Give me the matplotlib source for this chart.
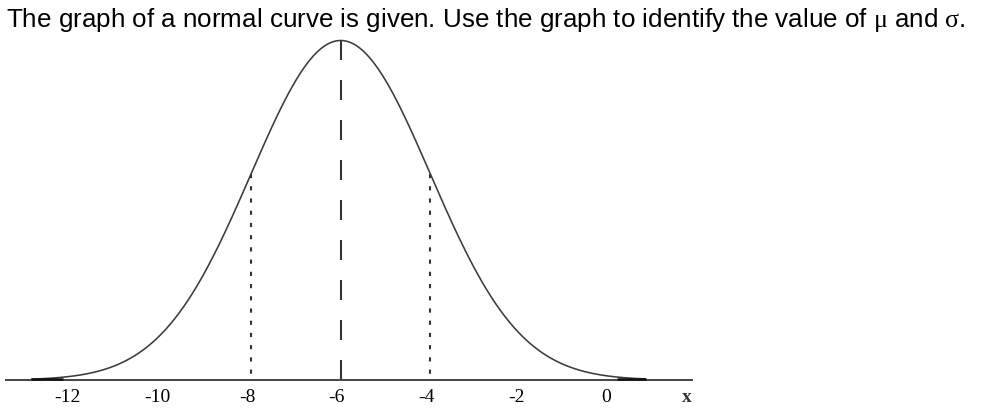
import numpy as np
import matplotlib
matplotlib.use("Agg")
import matplotlib.pyplot as plt
from matplotlib.transforms import ScaledTranslation

# ---- data ----
mu = -6.0
sigma = 2.0
curve_range = [-12.9, 0.8]
tail_limits = [-12.2, 0.16]
tick_values = [-12, -10, -8, -6, -4, -2, 0]
tick_labels = ["-12", "-10", "-8", "-6", "-4", "-2", "0"]
sigma_marks = [-8, -4]
axis_range = [-13.46, 1.83]
title = r"The graph of a normal curve is given. Use the graph to identify the value of $\mathrm{\mu}$ and $\mathrm{\sigma}$."

plt.rcParams['lines.scale_dashes'] = False
plt.rcParams['mathtext.fontset'] = 'custom'
plt.rcParams['mathtext.rm'] = 'Liberation Serif'

W, H = 1008, 410
fig = plt.figure(figsize=(W / 100, H / 100), dpi=100)
ax = fig.add_axes([0, 0, 1, 1])
ax.set_xlim(-13.596, 8.878)
ax.set_ylim(-0.0854, 1.1222)
ax.patch.set_alpha(0)

def f(x):
    return np.exp(-0.5 * ((np.asarray(x) - mu) / sigma) ** 2)

xs = np.linspace(curve_range[0], curve_range[1], 800)
ax.plot(xs, f(xs), color='#3c3c3c', lw=1.15, solid_capstyle='butt', zorder=3)
# flat tails that merge with the axis (drawn heavier, as in the original)
for a, b in [(curve_range[0], tail_limits[0]), (tail_limits[1], curve_range[1])]:
    ax.plot([a, b], [0.004, 0.004], color='#111111', lw=1.8,
            solid_capstyle='butt', zorder=3)

# mean line (long dashes) from the peak down
ax.plot([mu, mu], [f(mu), 0], color='#333333', lw=1.5,
        dashes=(14.4, 14.4), zorder=2)
# sigma lines (short dashes)
for s in sigma_marks:
    ax.plot([s, s], [f(s), 0], color='#333333', lw=1.5,
            dashes=(3.0, 5.8), zorder=2)

# axis
for side in ['top', 'right', 'left']:
    ax.spines[side].set_visible(False)
ax.spines['bottom'].set_position(('data', 0))
ax.spines['bottom'].set_bounds(axis_range[0], axis_range[1])
ax.spines['bottom'].set_color('#444444')
ax.spines['bottom'].set_linewidth(1.4)
ax.set_yticks([])
ax.set_xticks(tick_values)
ax.set_xticklabels(tick_labels, fontfamily='Liberation Serif', fontsize=14)
ax.tick_params(axis='x', length=0, pad=5.5, colors='black')
shift = ScaledTranslation(-4 / 100, 0, fig.dpi_scale_trans)
for lab in ax.get_xticklabels():
    lab.set_transform(lab.get_transform() + shift)
ax.text(1.72, -0.0630, 'x', fontfamily='Liberation Serif', fontweight='bold',
        fontsize=14, ha='center', va='baseline', color='#333333')

fig.text(6 / W, 1 - 27.5 / H, title, fontfamily='Liberation Sans', fontsize=18.7,
         ha='left', va='baseline', color='black')

fig.savefig('out.png', dpi=100)
